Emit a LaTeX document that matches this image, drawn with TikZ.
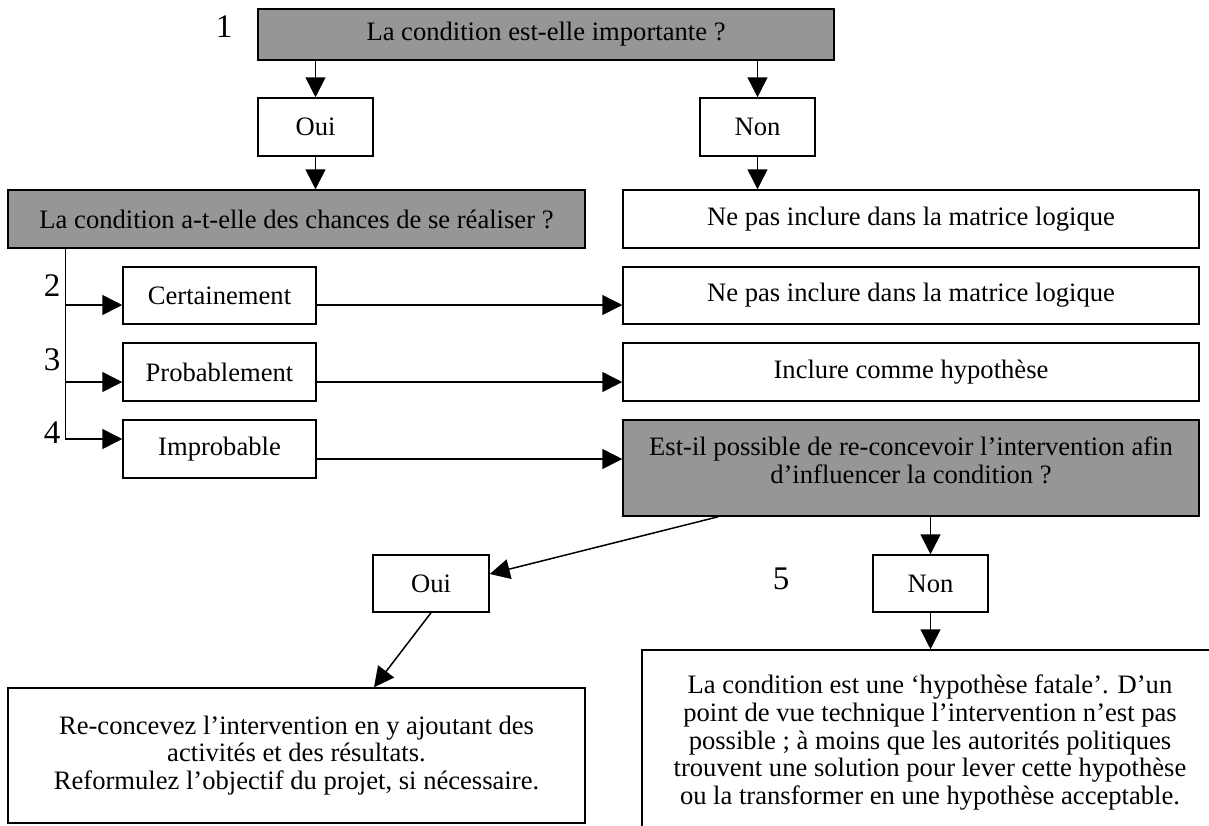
\documentclass[tikz,border=0pt]{standalone}
\usepackage{fontspec}
\setmainfont{Liberation Serif}
\usetikzlibrary{arrows.meta}
\definecolor{grisq}{RGB}{150,150,150}

\begin{document}
\begin{tikzpicture}[x=0.5pt,y=-0.5pt,
    font=\fontsize{13.3}{13.9}\selectfont,
    boite/.style={draw,line width=0.75pt,fill=white,inner sep=0pt,align=center},
    question/.style={boite,fill=grisq},
    numero/.style={font=\fontsize{16.5}{18}\selectfont},
    fleche/.style={line width=0.75pt,-{Triangle[length=10pt,width=10pt]}}]
    \useasboundingbox (0,0) rectangle (1209,825);

    % question 1
    \node[question,minimum width=288pt,minimum height=25.5pt] (q1) at (546,34.5) {La condition est-elle importante ?};
    \node[numero] (n1) at (224,27) {1};

    \node[boite,minimum width=57.5pt,minimum height=29pt] (oui1) at (315.5,127) {Oui};
    \node[boite,minimum width=57.5pt,minimum height=29pt] (non1) at (757.5,127) {Non};

    \draw[fleche] (oui1.north |- q1.south) -- (oui1.north);
    \draw[fleche] (non1.north |- q1.south) -- (non1.north);

    % question 2
    \node[question,minimum width=288.5pt,minimum height=29pt] (q2) at (296.5,219) {La condition a-t-elle des chances de se réaliser ?};
    \node[boite,minimum width=288pt,minimum height=29pt] (ne1) at (911,219) {Ne pas inclure dans la matrice logique};

    \draw[fleche] (oui1.south) -- (oui1.south |- q2.north);
    \draw[fleche] (non1.south) -- (non1.south |- ne1.north);

    \node[boite,minimum width=96.5pt,minimum height=28.5pt] (cert) at (219.5,295.5) {Certainement};
    \node[boite,minimum width=96.5pt,minimum height=29pt] (prob) at (219.5,372) {Probablement};
    \node[boite,minimum width=96.5pt,minimum height=29pt] (impr) at (219.5,449) {Improbable};

    \node[boite,minimum width=288pt,minimum height=28.5pt] (ne2) at (911,295.5) {Ne pas inclure dans la matrice logique};
    \node[boite,minimum width=288pt,minimum height=29pt] (incl) at (911,372) {Inclure comme hypothèse};
    \node[question,minimum width=288pt,minimum height=48pt,text depth=8pt] (q3) at (911,468) {Est-il possible de re-concevoir l’intervention afin\\d’influencer la condition ?};

    \node[numero] (n2) at (52,286) {2};
    \node[numero] (n3) at (52,360) {3};
    \node[numero] (n4) at (52,433) {4};

    \coordinate (tronc) at ([xshift=29pt]q2.south west);
    \coordinate (r2) at ([yshift=-4.75pt]cert.west);
    \coordinate (r3) at ([yshift=-5pt]prob.west);
    \coordinate (r4) at ([yshift=5pt]impr.west);
    \coordinate (s4) at ([yshift=-5pt]impr.east);

    \draw[fleche] (tronc) |- (r4);
    \draw[fleche] (tronc |- r2) -- (r2);
    \draw[fleche] (tronc |- r3) -- (r3);

    \draw[fleche] (cert.east |- r2) -- (ne2.west |- r2);
    \draw[fleche] (prob.east |- r3) -- (incl.west |- r3);
    \draw[fleche] (s4) -- (q3.west |- s4);

    % question 3
    \node[boite,minimum width=58pt,minimum height=28.5pt] (oui2) at (431,583.5) {Oui};
    \node[boite,minimum width=57.5pt,minimum height=28.5pt] (non2) at (930.5,583.5) {Non};
    \node[numero] (n5) at (781,579) {5};

    \node[boite,minimum width=288.5pt,minimum height=67.5pt] (reconc) at (296.5,755.5) {Re-concevez l’intervention en y ajoutant des\\activités et des résultats.\\Reformulez l’objectif du projet, si nécessaire.};
    \node[boite,minimum width=288pt,minimum height=92.5pt] (fatale) at (930,742.5) {La condition est une ‘hypothèse fatale’. D’un\\point de vue technique l’intervention n’est pas\\possible ; à moins que les autorités politiques\\trouvent une solution pour lever cette hypothèse\\ou la transformer en une hypothèse acceptable.};

    \draw[fleche] ([xshift=48pt]q3.south west) -- ([yshift=4.75pt]oui2.east);
    \draw[fleche] (oui2.south) -- ([xshift=38.75pt]reconc.north);
    \draw[fleche] (non2.north |- q3.south) -- (non2.north);
    \draw[fleche] (non2.south) -- (non2.south |- fatale.north);

\end{tikzpicture}
\end{document}
